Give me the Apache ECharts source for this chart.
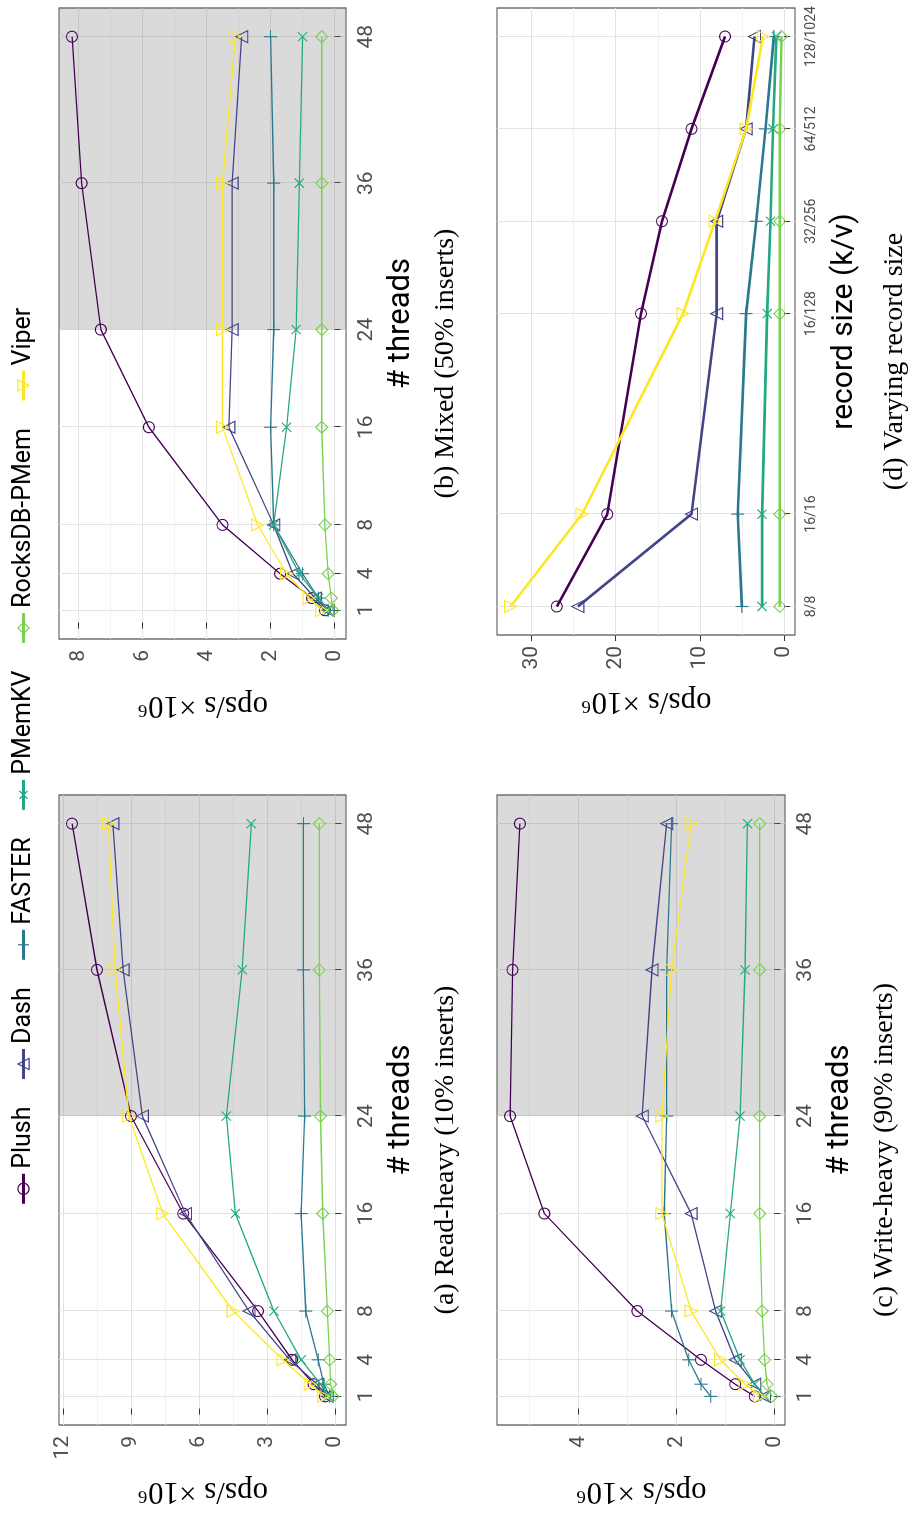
<!DOCTYPE html>
<html><head><meta charset="utf-8">
<script src="https://cdn.jsdelivr.net/npm/echarts@6/dist/echarts.min.js"></script>
<style>
html,body{margin:0;padding:0;background:#fff;overflow:hidden;}
#wrap{position:absolute;left:0;top:0;width:914px;height:1513px;overflow:hidden;background:#fff;}
#chart{position:absolute;left:0;top:0;width:1513px;height:914px;transform-origin:0 0;transform:translate(0,1513px) rotate(-90deg);}
</style></head><body><div id="wrap"><div id="chart"></div></div>
<script>
// ---------- data ----------
const systems = ['Plush', 'Dash', 'FASTER', 'PMemKV', 'RocksDB-PMem', 'Viper'];
const threads = [1, 2, 4, 8, 16, 24, 36, 48];
const threadTicks = [1, 4, 8, 16, 24, 36, 48];
const recKeys = [8, 16, 16, 32, 64, 128];
const recVals = [8, 16, 128, 256, 512, 1024];

// (a) Read-heavy (10% inserts), ops/s x10^6
const readPlush  = [0.45, 0.95, 1.9, 3.4, 6.7, 9.0, 10.5, 11.6];
const readDash   = [0.35, 0.8, 2.0, 3.8, 6.6, 8.5, 9.35, 9.8];
const readFaster = [0.25, 0.5, 0.75, 1.3, 1.5, 1.35, 1.4, 1.4];
const readPmemkv = [0.3, 0.65, 1.5, 2.7, 4.4, 4.8, 4.1, 3.7];
const readRocks  = [0.1, 0.2, 0.25, 0.35, 0.55, 0.65, 0.7, 0.7];
const readViper  = [0.5, 1.1, 2.3, 4.5, 7.6, 9.1, 9.7, 10.0];

// (b) Mixed (50% inserts)
const mixPlush  = [0.3, 0.7, 1.7, 3.5, 5.8, 7.3, 7.9, 8.2];
const mixDash   = [0.2, 0.6, 1.3, 1.9, 3.3, 3.2, 3.2, 2.9];
const mixFaster = [0.2, 0.5, 1.0, 1.9, 2.0, 1.9, 1.9, 2.0];
const mixPmemkv = [0.2, 0.5, 1.1, 1.9, 1.5, 1.2, 1.1, 1.0];
const mixRocks  = [0.05, 0.1, 0.2, 0.3, 0.4, 0.4, 0.4, 0.4];
const mixViper  = [0.4, 0.8, 1.5, 2.4, 3.5, 3.5, 3.5, 3.1];

// (c) Write-heavy (90% inserts)
const writePlush  = [0.4, 0.8, 1.5, 2.8, 4.7, 5.4, 5.35, 5.2];
const writeDash   = [0.2, 0.4, 0.8, 1.2, 1.7, 2.7, 2.5, 2.2];
const writeFaster = [1.3, 1.5, 1.75, 2.1, 2.25, 2.2, 2.2, 2.1];
const writePmemkv = [0.2, 0.4, 0.7, 1.1, 0.9, 0.7, 0.6, 0.55];
const writeRocks  = [0.05, 0.15, 0.2, 0.25, 0.3, 0.3, 0.3, 0.3];
const writeViper  = [0.3, 0.6, 1.1, 1.7, 2.3, 2.3, 2.1, 1.7];

// (d) Varying record size
const recPlush  = [27, 21, 17, 14.5, 11, 7];
const recDash   = [24.5, 11, 8, 8, 4.5, 3.5];
const recFaster = [5, 5.5, 4.5, 3.3, 2.2, 1.2];
const recPmemkv = [2.6, 2.6, 2.0, 1.6, 1.3, 0.9];
const recRocks  = [0.5, 0.5, 0.5, 0.5, 0.5, 0.3];
const recViper  = [32.5, 24, 12, 8.2, 4.5, 2.5];

const opsTicksA = [0, 3, 6, 9, 12];
const opsTicksB = [0, 2, 4, 6, 8];
const opsTicksC = [0, 2, 4];
const opsTicksD = [0, 10, 20, 30];

// ---------- styles ----------
const colors = ['#440154', '#414487', '#2A788E', '#22A884', '#7AD151', '#FDE725'];
const plusPath = 'path://M5,0L5,10M0,5L10,5';
const symbols = ['circle', 'triangle', plusPath, plusPath, 'diamond', 'triangle'];
const symbolRot = [0, 0, 0, 45, 0, 180];
const symbolSizes = [11, 12, 13, 13, 12, 12];
const SANS = "'Liberation Sans Narrow', 'Roboto', 'Liberation Sans', sans-serif";
const SERIF = "'Liberation Serif', 'DejaVu Serif', serif";

function expand(lo, hi) { const r = hi - lo; return [lo - 0.05 * r, hi + 0.05 * r]; }
function extentOf(arrs) {
  let lo = Infinity, hi = -Infinity;
  arrs.forEach(a => a.forEach(v => { lo = Math.min(lo, v); hi = Math.max(hi, v); }));
  return [lo, hi];
}

const panels = [
  { sets: [readPlush, readDash, readFaster, readPmemkv, readRocks, readViper], ticks: opsTicksA, minor: [1.5, 4.5, 7.5, 10.5],
    grid: { left: 88, top: 59, width: 630, height: 287 }, caption: '(a) Read-heavy (10% inserts)' },
  { sets: [mixPlush, mixDash, mixFaster, mixPmemkv, mixRocks, mixViper], ticks: opsTicksB, minor: [1, 3, 5, 7],
    grid: { left: 874, top: 59, width: 631, height: 287 }, caption: '(b) Mixed (50% inserts)' },
  { sets: [writePlush, writeDash, writeFaster, writePmemkv, writeRocks, writeViper], ticks: opsTicksC, minor: [1, 3, 5],
    grid: { left: 88, top: 497, width: 630, height: 288 }, caption: '(c) Write-heavy (90% inserts)' },
  { sets: [recPlush, recDash, recFaster, recPmemkv, recRocks, recViper], ticks: opsTicksD, minor: [5, 15, 25],
    grid: { left: 878, top: 497, width: 627, height: 298 }, caption: '(d) Varying record size', rec: true }
];

const grids = [], xAxes = [], yAxes = [], series = [];
const thrExt = expand(Math.min(...threads), Math.max(...threads));
const recSizes = recKeys.map((k, i) => k + recVals[i]);
const recLabels = recKeys.map((k, i) => k + '/' + recVals[i]);
const recExtLog = expand(Math.log2(Math.min(...recSizes)), Math.log2(Math.max(...recSizes)));

panels.forEach((p, pi) => {
  grids.push(Object.assign({ show: true, borderColor: '#4d4d4d', borderWidth: 1.2, backgroundColor: 'transparent', containLabel: false }, p.grid));
  const ext = expand(...extentOf(p.sets));
  const gridLine = { show: true, lineStyle: { color: '#e3e3e3', width: 1 } };
  const minorLine = { show: true, lineStyle: { color: '#efefef', width: 0.8 } };
  yAxes.push({ type: 'value', gridIndex: pi, min: ext[0], max: ext[1],
    name: 'ops/s ×10⁶', nameLocation: 'middle', nameGap: 51,
    nameTextStyle: { fontFamily: SERIF, fontSize: 31, color: '#000' },
    axisLine: { show: false },
    axisTick: { show: true, length: 6, customValues: p.ticks, lineStyle: { color: '#333' } },
    axisLabel: { customValues: p.ticks, fontFamily: SANS, fontSize: 21, color: '#4d4d4d', margin: 11 },
    splitLine: gridLine });
  yAxes.push({ type: 'value', gridIndex: pi, min: ext[0], max: ext[1],
    axisLine: { show: false }, axisTick: { show: false, customValues: p.minor },
    axisLabel: { show: false, customValues: p.minor }, splitLine: minorLine });
  if (p.rec) {
    xAxes.push({ type: 'log', logBase: 2, gridIndex: pi, min: Math.pow(2, recExtLog[0]), max: Math.pow(2, recExtLog[1]),
      name: 'record size (k/v)', nameLocation: 'middle', nameGap: 34,
      nameTextStyle: { fontFamily: SANS, fontSize: 30, color: '#000' },
      axisLine: { show: false },
      axisTick: { show: true, length: 6, customValues: recSizes, lineStyle: { color: '#333' } },
      axisLabel: { customValues: recSizes, fontFamily: SANS, fontSize: 14, color: '#4d4d4d', margin: 9,
        formatter: v => { const i = recSizes.indexOf(Math.round(v)); return i >= 0 ? recLabels[i] : ''; } },
      splitLine: gridLine });
  } else {
    xAxes.push({ type: 'value', gridIndex: pi, min: thrExt[0], max: thrExt[1],
      name: '# threads', nameLocation: 'middle', nameGap: 40,
      nameTextStyle: { fontFamily: SANS, fontSize: 31, color: '#000' },
      axisLine: { show: false },
      axisTick: { show: true, length: 6, customValues: threadTicks, lineStyle: { color: '#333' } },
      axisLabel: { customValues: threadTicks, fontFamily: SANS, fontSize: 21, color: '#4d4d4d', margin: 10 },
      splitLine: gridLine });
  }
  p.sets.forEach((vals, si) => {
    const xs = p.rec ? recSizes : threads;
    const s = {
      type: 'line', name: systems[si], xAxisIndex: pi, yAxisIndex: pi * 2,
      data: vals.map((v, i) => [xs[i], v]),
      symbol: symbols[si], symbolSize: symbolSizes[si], symbolRotate: symbolRot[si],
      showAllSymbol: true,
      lineStyle: { color: colors[si], width: p.rec ? 2.6 : 1.3 },
      itemStyle: { color: 'rgba(255,255,255,0)', borderColor: colors[si], borderWidth: 1.1 },
      emphasis: { disabled: true }, animation: false, z: 3 + si
    };
    if (si === 0 && !p.rec) {
      s.markArea = { silent: true, itemStyle: { color: 'rgba(120,120,120,0.27)' },
        data: [[{ xAxis: 24 }, { xAxis: thrExt[1] }]] };
    }
    series.push(s);
  });
});

const chart = echarts.init(document.getElementById('chart'), null, { renderer: 'canvas', width: 1513, height: 914 });
chart.setOption({
  animation: false,
  backgroundColor: '#fff',
  legend: { data: systems.map((n, i) => ({ name: n, itemStyle: { color: 'rgba(255,255,255,0)', borderColor: colors[i], borderWidth: 1.2 }, lineStyle: { color: colors[i], width: 3 } })),
    left: 'center', top: 6, itemGap: 26, itemWidth: 30, itemHeight: 14,
    textStyle: { fontFamily: SANS, fontSize: 25, color: '#000' } },
  grid: grids, xAxis: xAxes, yAxis: yAxes, series: series,
  graphic: panels.map((p, pi) => ({ type: 'text', silent: true,
    x: p.grid.left + p.grid.width / 2 - 40, y: p.grid.top + p.grid.height + 100,
    style: { text: p.caption, font: "28px " + SERIF, fill: '#000', textAlign: 'center', textVerticalAlign: 'middle' } }))
});
</script></body></html>
